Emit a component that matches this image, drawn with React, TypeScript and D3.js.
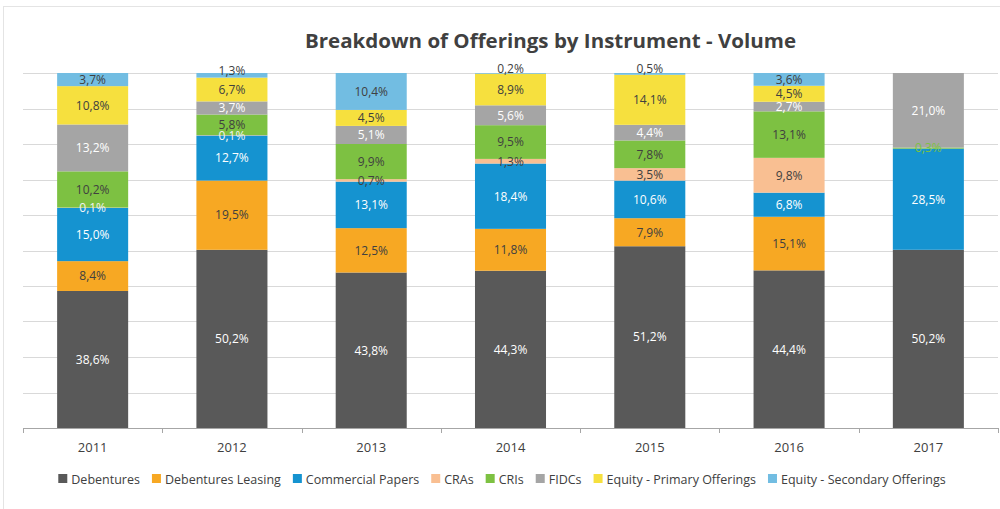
import React, { useEffect, useRef } from "react";
import * as d3 from "d3";

const years = ["2011", "2012", "2013", "2014", "2015", "2016", "2017"];
const seriesNames = [
  "Debentures",
  "Debentures Leasing",
  "Commercial Papers",
  "CRAs",
  "CRIs",
  "FIDCs",
  "Equity - Primary Offerings",
  "Equity - Secondary Offerings",
];
const debentures = [38.6, 50.2, 43.8, 44.3, 51.2, 44.4, 50.2];
const debenturesLeasing = [8.4, 19.5, 12.5, 11.8, 7.9, 15.1, 0];
const commercialPapers = [15.0, 12.7, 13.1, 18.4, 10.6, 6.8, 28.5];
const cras = [0.1, 0.1, 0.7, 1.3, 3.5, 9.8, 0];
const cris = [10.2, 5.8, 9.9, 9.5, 7.8, 13.1, 0.3];
const fidcs = [13.2, 3.7, 5.1, 5.6, 4.4, 2.7, 21.0];
const equityPrimary = [10.8, 6.7, 4.5, 8.9, 14.1, 4.5, 0];
const equitySecondary = [3.7, 1.3, 10.4, 0.2, 0.5, 3.6, 0];
const yTicks = [0, 10, 20, 30, 40, 50, 60, 70, 80, 90, 100];

const seriesValues = [
  debentures,
  debenturesLeasing,
  commercialPapers,
  cras,
  cris,
  fidcs,
  equityPrimary,
  equitySecondary,
];
const colors = ["#595959", "#F7A823", "#1593D0", "#F9BF92", "#7DC142", "#A5A5A5", "#F6E03E", "#72BDE2"];
const DARK = "#404040";
const labelColors = ["#FFFFFF", DARK, "#FFFFFF", DARK, DARK, "#FFFFFF", DARK, DARK];

const FONT = "'Open Sans', 'Noto Sans', sans-serif";

export default function App() {
  const ref = useRef<SVGSVGElement | null>(null);

  useEffect(() => {
    const svg = d3.select(ref.current);
    svg.selectAll("*").remove();
    const W = 1000, H = 509;
    const left = 23, right = 998, top = 73, bottom = 428;

    svg.append("rect").attr("x", 0).attr("y", 0).attr("width", W).attr("height", H).attr("fill", "#fff");
    svg.append("rect").attr("x", 3.5).attr("y", 6.5).attr("width", 1005).attr("height", 510)
      .attr("fill", "none").attr("stroke", "#E4E4E4");

    const x = d3.scaleBand<string>().domain(years).range([left, right]).paddingInner(0.49).paddingOuter(0.245);
    const y = d3.scaleLinear().domain([0, 100]).range([bottom, top]);

    // gridlines
    svg.append("g").selectAll("line").data(yTicks.filter((t) => t > 0)).join("line")
      .attr("x1", left).attr("x2", right)
      .attr("y1", (d) => Math.round(y(d)) + 0.5).attr("y2", (d) => Math.round(y(d)) + 0.5)
      .attr("stroke", "#D9D9D9").attr("stroke-width", 1);

    // title
    svg.append("text").attr("x", 305).attr("y", 48)
      .attr("font-family", FONT).attr("font-weight", 700).attr("font-size", 19.5)
      .attr("fill", "#404040").attr("textLength", 491).attr("lengthAdjust", "spacingAndGlyphs")
      .text("Breakdown of Offerings by Instrument - Volume");

    // stack
    const table = years.map((yr, i) => {
      const row: any = { year: yr };
      seriesNames.forEach((s, k) => (row[s] = seriesValues[k][i]));
      return row;
    });
    const stack = d3.stack<any>().keys(seriesNames)(table);

    const bars = svg.append("g");
    stack.forEach((layer, k) => {
      bars.append("g").attr("fill", colors[k]).selectAll("rect").data(layer).join("rect")
        .attr("x", (d: any) => x(d.data.year)!)
        .attr("width", x.bandwidth())
        .attr("y", (d: any) => y(d[1]))
        .attr("height", (d: any) => Math.max(0, y(d[0]) - y(d[1])));
    });

    // labels
    const labels = svg.append("g").attr("font-family", FONT).attr("font-size", 12).attr("text-anchor", "middle");
    stack.forEach((layer, k) => {
      layer.forEach((d: any, i: number) => {
        const v = seriesValues[k][i];
        if (!v) return;
        const isTop = k === seriesNames.length - 1;
        let cy = (y(d[0]) + y(d[1])) / 2;
        if (isTop && v < 2) cy -= 5;
        let fill = labelColors[k];
        if (k === 3 && v < 0.5) fill = "#F4F4F4";
        if (k === 4 && v < 1) fill = colors[4];
        labels.append("text")
          .attr("x", x(d.data.year)! + x.bandwidth() / 2)
          .attr("y", cy)
          .attr("dy", "0.36em")
          .attr("fill", fill)
          .text(v.toFixed(1).replace(".", ",") + "%");
      });
    });

    // x axis
    svg.append("line").attr("x1", left).attr("x2", right).attr("y1", bottom + 0.5).attr("y2", bottom + 0.5)
      .attr("stroke", "#A6A6A6").attr("stroke-width", 1);
    const boundaries = years.map((_, i) => left + i * x.step()).concat([right]);
    svg.append("g").selectAll("line").data(boundaries).join("line")
      .attr("x1", (d) => Math.round(d) + 0.5).attr("x2", (d) => Math.round(d) + 0.5)
      .attr("y1", bottom).attr("y2", bottom + 5).attr("stroke", "#A6A6A6");
    svg.append("g").selectAll("text").data(years).join("text")
      .attr("x", (d) => x(d)! + x.bandwidth() / 2).attr("y", 452)
      .attr("text-anchor", "middle").attr("font-family", FONT).attr("font-size", 13).attr("fill", DARK)
      .text((d) => d);

    // legend
    const lg = svg.append("g").attr("font-family", FONT).attr("font-size", 12.5).attr("fill", DARK);
    const items = seriesNames.map((name, k) => {
      const g = lg.append("g");
      g.append("rect").attr("x", 0).attr("y", -10).attr("width", 9).attr("height", 9).attr("fill", colors[k]);
      const t = g.append("text").attr("x", 13).attr("y", 0).text(name);
      const w = (t.node() as SVGTextElement).getComputedTextLength();
      return { g, w: 13 + w };
    });
    const gap = 12;
    const total = d3.sum(items, (d) => d.w) + gap * (items.length - 1);
    let cx = 502 - total / 2;
    items.forEach((it) => {
      it.g.attr("transform", `translate(${cx},${484})`);
      cx += it.w + gap;
    });
  }, []);

  return (
    <svg
      ref={ref}
      width={1000}
      height={509}
      style={{ position: "absolute", left: 0, top: 0, display: "block" }}
    />
  );
}
